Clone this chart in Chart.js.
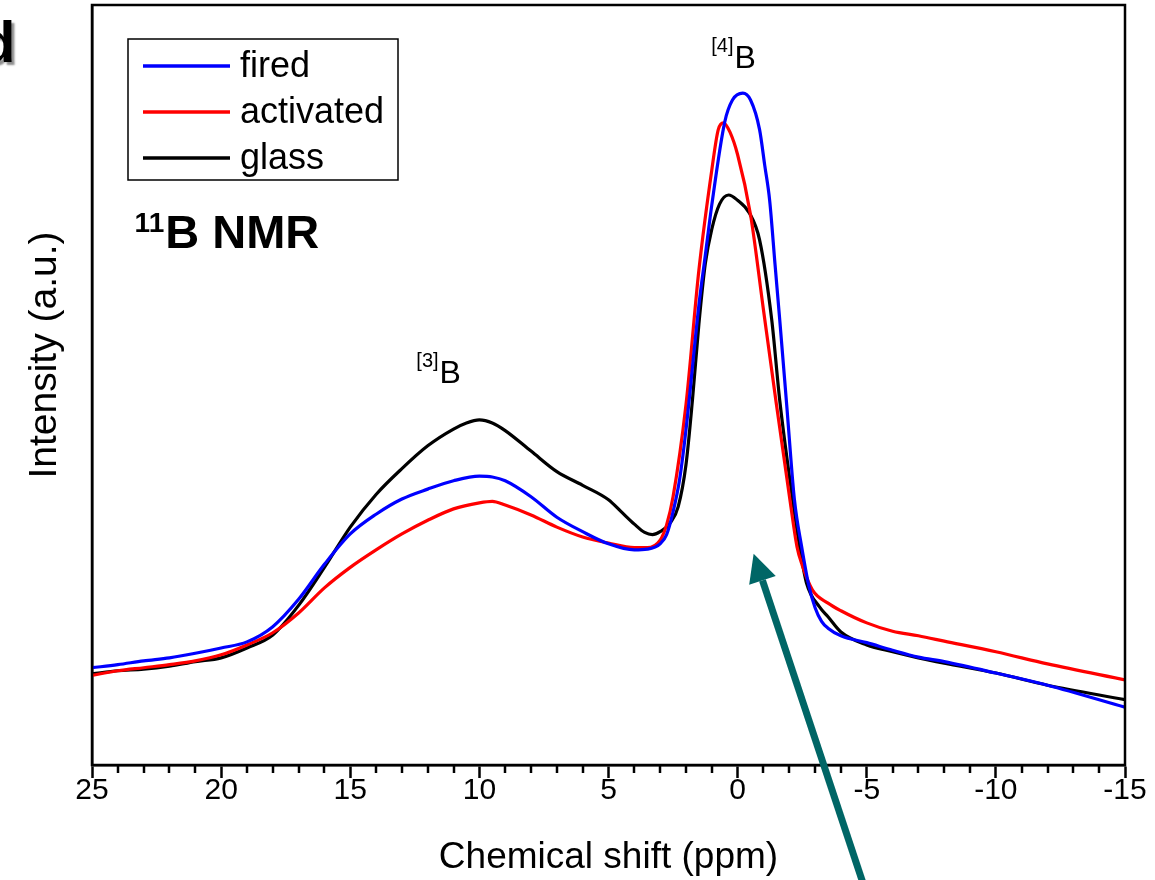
<!DOCTYPE html>
<html><head><meta charset="utf-8">
<script src="https://cdn.jsdelivr.net/npm/chart.js@4/dist/chart.umd.min.js"></script>
<style>html,body{margin:0;padding:0;background:#fff;overflow:hidden}#wrap{width:1155px;height:880px;position:relative}</style>
</head><body><div id="wrap"><canvas id="c" width="1155" height="880"></canvas></div>
<script>
// ---- data (chemical shift in ppm, intensity in a.u.) ----
const seriesNames = ['fired', 'activated', 'glass'];
const seriesColors = ['#0000ff', '#ff0000', '#000000'];

const firedShift = [25,24,23,22,21,20,19,18,17,16,15,14,13,12,11,10,9.5,9,8,7,6,5,4,3.5,3,2.75,2.5,2.25,2,1.5,1.25,1,0.5,0.2,-0.2,-0.5,-0.85,-1.05,-1.24,-1.45,-1.63,-1.9,-2.2,-2.48,-2.75,-3,-3.25,-3.5,-4,-5,-6,-7,-8,-10,-12,-15];
const firedIntensity = [12.8,13.2,13.7,14.1,14.7,15.4,16.2,18.2,21.8,26.4,30.4,33.0,35.0,36.3,37.4,38.0,37.9,37.4,35.3,32.6,30.7,29.1,28.3,28.4,29.1,30.3,33.3,37.5,44.1,60.5,67.1,73.7,84.6,87.5,88.4,87.5,83.6,78.9,74.3,65.8,58.6,47.4,34.9,28.7,23.7,20.7,18.9,18.0,17.0,16.1,15.1,14.2,13.6,12.1,10.5,7.6];

const activatedShift = [25,24,23,22,21,20,19,18,17,16,15,14,13,12,11,10,9.5,9,8,7,6,5,4,3.5,3,2.75,2.5,2,1.5,1,0.75,0.55,0.3,0,-0.5,-1,-1.5,-2,-2.3,-2.5,-2.9,-3.5,-4,-5,-6,-7,-8,-10,-12,-15];
const activatedIntensity = [11.8,12.4,12.8,13.2,13.7,14.5,15.8,17.4,20.0,23.3,26.0,28.3,30.4,32.2,33.7,34.5,34.7,34.2,32.9,31.3,30.0,29.2,28.6,28.6,29.6,31.6,35.3,47.4,65.1,78.3,83.6,84.5,83.3,80.3,72.4,59.9,47.5,35.5,28.7,26.3,23.0,21.3,20.3,18.7,17.6,17.0,16.3,14.9,13.3,11.2];

const glassShift = [25,24,23,22,21,20,19,18,17,16,15,14,13,12,11,10.5,10,9.5,9,8,7,6,5,4.5,4,3.6,3.3,3,2.6,2.3,2,1.75,1.5,1.25,1,0.7,0.35,0,-0.46,-0.85,-1.32,-1.63,-2.13,-2.4,-2.67,-3.17,-3.5,-4,-5,-6,-7,-8,-10,-12,-15];
const glassIntensity = [12.0,12.4,12.6,13.0,13.6,14.1,15.4,17.1,21.0,26.0,31.3,35.6,39.0,42.0,44.2,45.0,45.4,45.0,44.0,41.3,38.6,36.8,34.9,33.3,31.7,30.6,30.3,30.7,31.9,34.0,39.5,48.0,58.0,66.0,70.5,73.8,75.0,74.3,72.6,69.1,58.6,48.0,34.9,28.7,23.9,20.8,19.5,17.5,15.8,14.9,14.1,13.4,12.1,10.5,8.6];

const xTickValues = [25,20,15,10,5,0,-5,-10,-15];
const xTickLabels = ['25','20','15','10','5','0','-5','-10','-15'];

// annotations (data coordinates)
const peakLabels = [
  {sup: '[4]', main: 'B', shift: 0.12, intensity: 91.7},
  {sup: '[3]', main: 'B', shift: 11.54, intensity: 50.3}
];
const nmrLabel = {sup: '11', main: 'B NMR', shift: 23.35, intensity: 68.0};
const arrowFrom = [-4.85, -15.5];
const arrowTo = [-0.62, 27.8];

// ---- chart ----
const FONT = '"Liberation Sans", Arial, Helvetica, sans-serif';
Chart.defaults.font.family = FONT;
Chart.defaults.color = '#000';

function toXY(xs, ys) { return xs.map((x, i) => ({x: x, y: ys[i]})); }
const seriesData = [toXY(firedShift, firedIntensity), toXY(activatedShift, activatedIntensity), toXY(glassShift, glassIntensity)];

const decorPlugin = {
  id: 'decor',
  afterDraw(chart) {
    const ctx = chart.ctx, a = chart.chartArea;
    const xs = chart.scales.x, ys = chart.scales.y;
    ctx.save();
    // frame
    ctx.strokeStyle = '#000'; ctx.lineWidth = 2.5;
    ctx.strokeRect(a.left, a.top, a.right - a.left, a.bottom - a.top);
    // minor ticks
    ctx.lineWidth = 2.5;
    for (let v = Math.ceil(xs.min); v <= xs.max; v++) {
      if (xTickValues.includes(v)) continue;
      const px = Math.round(xs.getPixelForValue(v));
      ctx.beginPath(); ctx.moveTo(px, a.bottom); ctx.lineTo(px, a.bottom + 8); ctx.stroke();
    }
    // legend box
    const x0 = a.left + 36, y0 = a.top + 34, w = 270, h = 141;
    ctx.lineWidth = 1.5; ctx.strokeStyle = '#000';
    ctx.strokeRect(x0, y0, w, h);
    ctx.font = '36px ' + FONT; ctx.textBaseline = 'middle'; ctx.textAlign = 'left';
    chart.data.datasets.forEach((ds, i) => {
      const y = y0 + 27 + i * 46;
      ctx.strokeStyle = ds.borderColor; ctx.lineWidth = 3.5;
      ctx.beginPath(); ctx.moveTo(x0 + 15, y); ctx.lineTo(x0 + 102, y); ctx.stroke();
      ctx.fillStyle = '#000'; ctx.fillText(ds.label, x0 + 112, y + 1);
    });
    // peak labels
    ctx.textBaseline = 'alphabetic';
    peakLabels.forEach(p => {
      const px = xs.getPixelForValue(p.shift), py = ys.getPixelForValue(p.intensity);
      ctx.font = '32px ' + FONT; ctx.textAlign = 'left';
      ctx.fillText(p.main, px, py);
      ctx.font = '20px ' + FONT; ctx.textAlign = 'right';
      ctx.fillText(p.sup, px - 1, py - 16);
    });
    // 11B NMR
    {
      const px = xs.getPixelForValue(nmrLabel.shift), py = ys.getPixelForValue(nmrLabel.intensity);
      ctx.font = 'bold 28px ' + FONT; ctx.textAlign = 'left';
      ctx.fillText(nmrLabel.sup, px, py - 16);
      const sw = ctx.measureText(nmrLabel.sup).width;
      ctx.font = 'bold 47px ' + FONT;
      ctx.fillText(nmrLabel.main, px + sw + 1, py);
    }
    // y axis title
    ctx.save();
    ctx.translate(45, 355); ctx.rotate(-Math.PI / 2);
    ctx.font = '39px ' + FONT; ctx.textAlign = 'center'; ctx.textBaseline = 'middle';
    ctx.fillText('Intensity (a.u.)', 0, 0);
    ctx.restore();
    // panel letter
    ctx.save();
    ctx.font = 'bold 58px ' + FONT; ctx.textAlign = 'left'; ctx.textBaseline = 'alphabetic';
    ctx.shadowColor = 'rgba(0,0,0,0.45)'; ctx.shadowOffsetX = 3; ctx.shadowOffsetY = 3; ctx.shadowBlur = 2;
    ctx.fillText('d', -20, 62);
    ctx.restore();
    // arrow
    const tx = xs.getPixelForValue(arrowFrom[0]), ty = ys.getPixelForValue(arrowFrom[1]);
    const hx = xs.getPixelForValue(arrowTo[0]), hy = ys.getPixelForValue(arrowTo[1]);
    const ang = Math.atan2(hy - ty, hx - tx);
    const headLen = 28, headHalf = 14;
    const bx = hx - headLen * Math.cos(ang), by = hy - headLen * Math.sin(ang);
    ctx.strokeStyle = '#006666'; ctx.fillStyle = '#006666'; ctx.lineWidth = 7;
    ctx.beginPath(); ctx.moveTo(tx, ty); ctx.lineTo(bx, by); ctx.stroke();
    ctx.beginPath();
    ctx.moveTo(hx, hy);
    ctx.lineTo(bx + headHalf * Math.sin(ang), by - headHalf * Math.cos(ang));
    ctx.lineTo(bx - headHalf * Math.sin(ang), by + headHalf * Math.cos(ang));
    ctx.closePath(); ctx.fill();
    ctx.restore();
  }
};

new Chart(document.getElementById('c'), {
  type: 'line',
  data: {
    datasets: seriesNames.map((n, i) => ({
      label: n,
      data: seriesData[i],
      borderColor: seriesColors[i],
      backgroundColor: seriesColors[i],
      borderWidth: 3.2,
      pointRadius: 0,
      fill: false,
      cubicInterpolationMode: 'monotone'
    }))
  },
  options: {
    responsive: false,
    animation: false,
    devicePixelRatio: 1,
    layout: {padding: {left: 0, right: 30, top: 5, bottom: 0}},
    plugins: {legend: {display: false}, tooltip: {enabled: false}},
    scales: {
      x: {
        type: 'linear', reverse: true, min: -15, max: 25,
        afterBuildTicks: s => { s.ticks = xTickValues.map(v => ({value: v})); },
        afterFit: s => { s.height = 115; },
        ticks: {
          autoSkip: false, maxRotation: 0, padding: -2,
          font: {size: 30, lineHeight: 1},
          callback: v => xTickLabels[xTickValues.indexOf(v)]
        },
        grid: {display: true, drawOnChartArea: false, drawTicks: true, tickLength: 13, tickWidth: 2.5, tickColor: '#000'},
        border: {display: true, color: '#000', width: 2.5},
        title: {display: true, text: 'Chemical shift (ppm)', font: {size: 37}, padding: {top: 0, bottom: 0}}
      },
      y: {
        type: 'linear', min: 0, max: 100,
        afterFit: s => { s.width = 92; },
        ticks: {display: false},
        grid: {display: false},
        border: {display: true, color: '#000', width: 2.5},
        title: {display: false, text: 'Intensity (a.u.)'}
      }
    }
  },
  plugins: [decorPlugin]
});
</script>
</body></html>
